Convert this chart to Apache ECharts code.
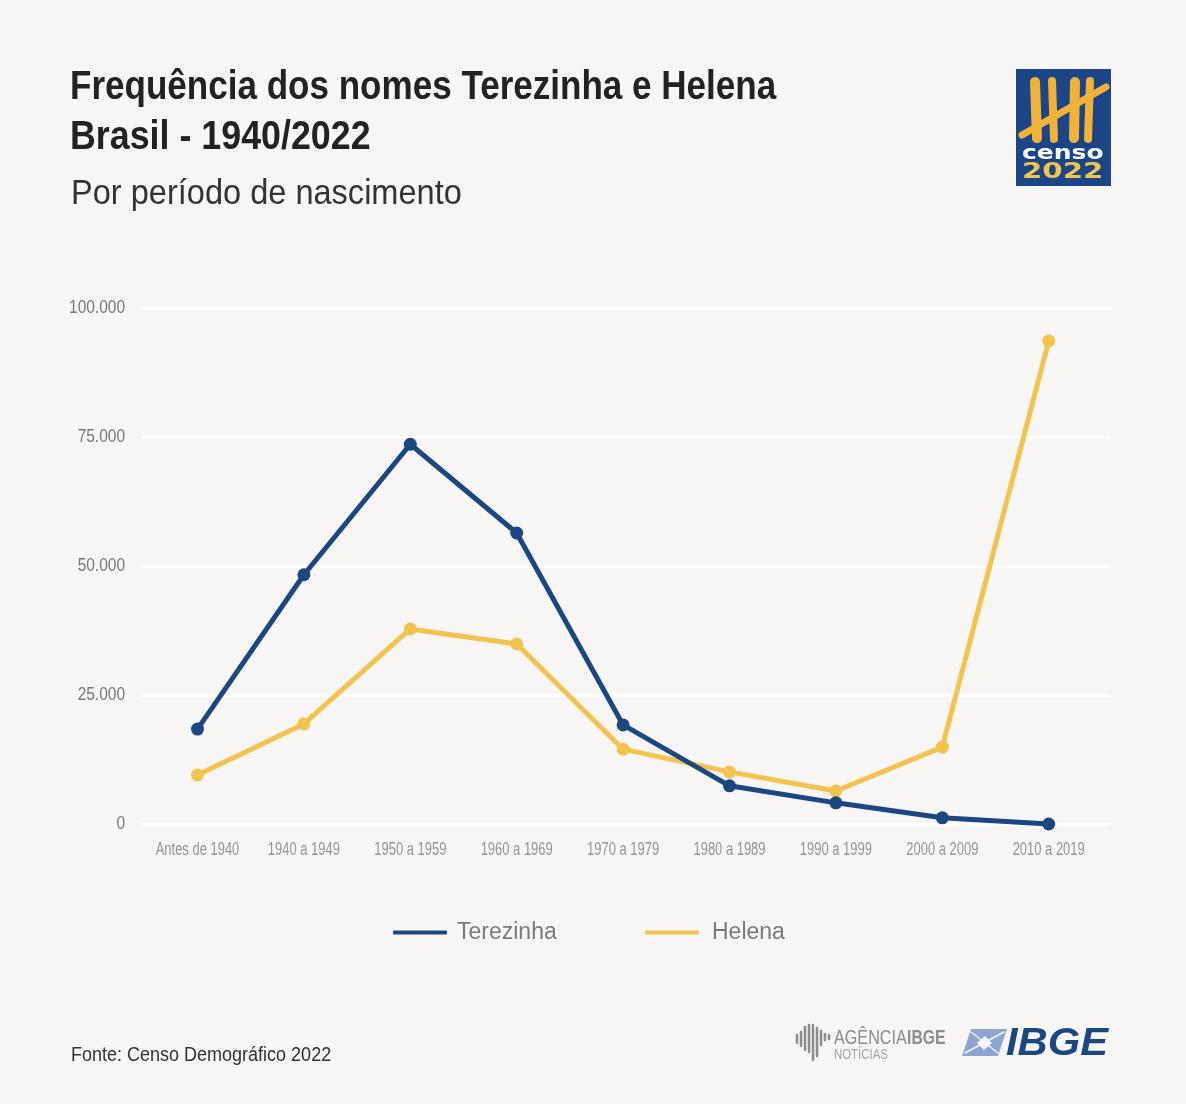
<!DOCTYPE html>
<html>
<head>
<meta charset="utf-8">
<title>Frequência dos nomes Terezinha e Helena</title>
<script src="https://cdn.jsdelivr.net/npm/echarts@6/dist/echarts.min.js"></script>
<style>
  html, body { margin: 0; padding: 0; background: #f7f6f5; }
  #main { width: 1186px; height: 1104px; }
</style>
</head>
<body>
<div id="main"></div>
<script>
const categories = ['Antes de 1940', '1940 a 1949', '1950 a 1959', '1960 a 1969', '1970 a 1979', '1980 a 1989', '1990 a 1999', '2000 a 2009', '2010 a 2019'];
const yTicks = [0, 25000, 50000, 75000, 100000];
const terezinha = [18400, 48300, 73600, 56400, 19200, 7400, 4100, 1200, 0];
const helena = [9500, 19400, 37800, 34900, 14500, 10100, 6400, 14900, 93600];

const sans = '"Liberation Sans", sans-serif';
const blue = '#1b4680';
const yellow = '#f2c44f';
const tally = '#f0b238';
const gray = '#8c8c8c';

// no condensed font is installed, so the narrow look comes from scaleX
function txt(x, y, text, font, fill, scaleX, align) {
  return {
    type: 'text', x: x, y: y, scaleX: scaleX || 1, silent: true,
    style: { text: text, font: font, fill: fill, align: align || 'left', verticalAlign: 'middle' }
  };
}
function stroke(x1, y1, x2, y2, color, w) {
  return { type: 'line', silent: true, shape: { x1: x1, y1: y1, x2: x2, y2: y2 }, style: { stroke: color, lineWidth: w, lineCap: 'round' } };
}
function poly(points, fill) {
  return { type: 'polygon', silent: true, shape: { points: points }, style: { fill: fill } };
}

const titles = [
  txt(70, 88, 'Frequência dos nomes Terezinha e Helena', 'bold 40px ' + sans, '#222222', 0.876),
  txt(70, 138, 'Brasil - 1940/2022', 'bold 40px ' + sans, '#222222', 0.895),
  txt(71, 194, 'Por período de nascimento', '35px ' + sans, '#333333', 0.93),
  txt(71, 1055, 'Fonte: Censo Demográfico 2022', '20px ' + sans, '#333333', 0.9)
];

// censo 2022 logo, top right
const censoLogo = [
  { type: 'rect', silent: true, shape: { x: 1016, y: 69, width: 95, height: 117 }, style: { fill: '#1c4587' } },
  stroke(1035, 82, 1037, 138, tally, 10),
  stroke(1052, 81, 1054, 139, tally, 8),
  stroke(1075, 82, 1074, 138, tally, 10),
  stroke(1090, 81, 1088, 139, tally, 8),
  stroke(1022, 135, 1106, 87, tally, 7),
  txt(1022, 154, 'censo', 'bold 20px "DejaVu Sans"', '#ffffff', 1.25),
  txt(1022, 172, '2022', 'bold 22px "DejaVu Sans"', '#f2c44f', 1.33)
];

// Agência IBGE + IBGE marks, bottom right
const footerLogos = [
  stroke(797, 1035, 797, 1043, gray, 2.5),
  stroke(801, 1032, 801, 1046, gray, 2.5),
  stroke(805, 1027, 805, 1050, gray, 2.5),
  stroke(809, 1025, 809, 1052, gray, 2.5),
  stroke(813, 1025, 813, 1060, gray, 2.5),
  stroke(817, 1028, 817, 1056, gray, 2.5),
  stroke(821, 1031, 821, 1045, gray, 2.5),
  stroke(825, 1034, 825, 1040, gray, 2.5),
  stroke(829, 1035, 829, 1039, gray, 2.5),
  txt(834, 1038, 'AGÊNCIA', '21px ' + sans, gray, 0.77),
  txt(907, 1038, 'IBGE', 'bold 21px ' + sans, gray, 0.75),
  txt(834, 1055, 'NOTÍCIAS', '15px ' + sans, '#a3a3a3', 0.76),
  poly([[971, 1029], [1007, 1029], [998, 1056], [962, 1056]], '#8ea5d1'),
  stroke(971, 1032, 998, 1053, '#f7f6f5', 1.5),
  stroke(1004, 1032, 965, 1053, '#f7f6f5', 1.5),
  poly([[985, 1036], [992, 1043], [984, 1050], [977, 1043]], '#f7f6f5'),
  txt(1006, 1044, 'IBGE', 'italic bold 39px ' + sans, '#1b4680', 1.07)
];

const chart = echarts.init(document.getElementById('main'));
chart.setOption({
  backgroundColor: '#f7f6f5',
  animation: false,
  // two legends because the gap before each name differs in the reference
  legend: [
    {
      left: 393, top: 921, padding: 0, icon: 'roundRect', itemWidth: 54, itemHeight: 4,
      textStyle: { fontFamily: sans, fontSize: 23, color: '#7a7a7a', padding: [2, 0, 0, 5] },
      data: ['Terezinha']
    },
    {
      left: 645, top: 921, padding: 0, icon: 'roundRect', itemWidth: 54, itemHeight: 4,
      textStyle: { fontFamily: sans, fontSize: 23, color: '#7a7a7a', padding: [2, 0, 0, 8] },
      data: ['Helena']
    }
  ],
  // gridlines run wider than the category band, so they sit in their own grid
  grid: [
    { left: 141, top: 308, width: 970, height: 516 },
    { left: 144.3, top: 308, width: 957.6, height: 516 }
  ],
  xAxis: [
    { type: 'category', gridIndex: 0, data: categories, show: false },
    {
      type: 'category', gridIndex: 1, data: categories,
      axisLine: { show: false }, axisTick: { show: false }, axisLabel: { show: false }
    }
  ],
  yAxis: [
    {
      type: 'value', gridIndex: 0, min: 0, max: 100000, interval: 25000,
      axisLine: { show: false }, axisTick: { show: false }, axisLabel: { show: false },
      splitLine: { lineStyle: { color: '#ffffff', width: 3 } }
    },
    { type: 'value', gridIndex: 1, min: 0, max: 100000, interval: 25000, show: false }
  ],
  series: [
    {
      name: 'Terezinha', type: 'line', xAxisIndex: 1, yAxisIndex: 1, data: terezinha,
      symbol: 'circle', symbolSize: 13, itemStyle: { color: blue }, lineStyle: { color: blue, width: 5 }, z: 3
    },
    {
      name: 'Helena', type: 'line', xAxisIndex: 1, yAxisIndex: 1, data: helena,
      symbol: 'circle', symbolSize: 13, itemStyle: { color: yellow }, lineStyle: { color: yellow, width: 5 }, z: 2
    }
  ]
});

// tick labels placed through the axes' own scales, squeezed with scaleX
const xLabels = categories.map(function (c) {
  return txt(chart.convertToPixel({ xAxisIndex: 1 }, c), 850, c, '18px ' + sans, '#949494', 0.72, 'center');
});
const yLabels = yTicks.map(function (v) {
  const label = String(v).replace(/\B(?=(\d{3})+$)/g, '.');
  return txt(125, chart.convertToPixel({ yAxisIndex: 0 }, v), label, '19px ' + sans, '#777777', 0.815, 'right');
});

chart.setOption({ graphic: titles.concat(censoLogo, footerLogos, xLabels, yLabels) });
</script>
</body>
</html>
